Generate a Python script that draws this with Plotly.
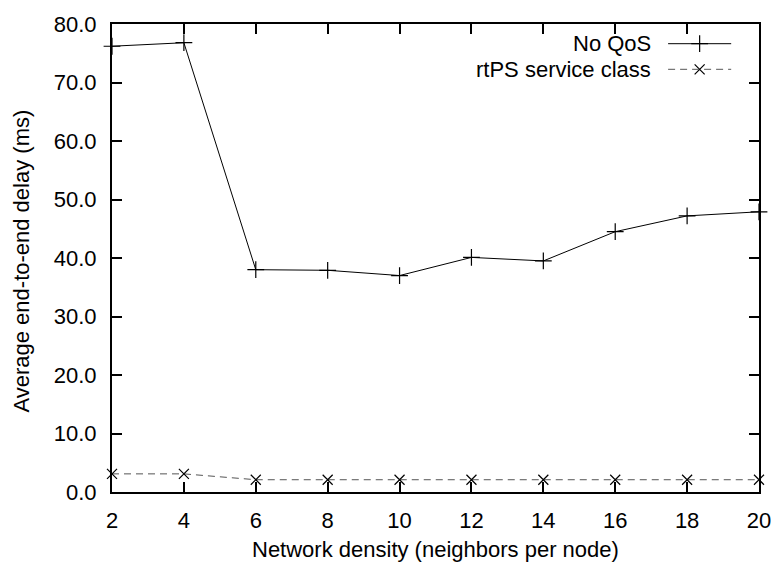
import plotly.graph_objects as go

# Network density (neighbors per node)
density = [2, 4, 6, 8, 10, 12, 14, 16, 18, 20]
# Average end-to-end delay (ms)
delay_no_qos = [76.2, 76.8, 38.0, 37.9, 37.0, 40.1, 39.5, 44.5, 47.2, 47.9]
delay_rtps = [3.1, 3.1, 2.1, 2.1, 2.1, 2.1, 2.1, 2.1, 2.1, 2.1]

series_names = ["No QoS", "rtPS service class"]
y_ticks = [0, 10, 20, 30, 40, 50, 60, 70, 80]

FONT = "Liberation Sans, Arial, Helvetica, sans-serif"
FS = 22

fig = go.Figure()

fig.add_trace(go.Scatter(
    x=density, y=delay_no_qos, mode="lines+markers", name=series_names[0],
    line=dict(color="black", width=1),
    marker=dict(symbol="cross-thin", size=12, line=dict(color="black", width=1.2)),
    cliponaxis=False,
))
fig.add_trace(go.Scatter(
    x=density, y=delay_rtps, mode="lines+markers", name=series_names[1],
    line=dict(color="#555555", width=1, dash="7px,5px"),
    marker=dict(symbol="x-thin", size=10, line=dict(color="black", width=1.2)),
    cliponaxis=False,
))

# key in the upper right: label, line sample and symbol
key_rows = [0.9579, 0.9032]
key_x0, key_x1, key_text_x = 0.8595, 0.957, 0.8366
key_styles = [
    dict(color="black", width=1, dash="solid", symbol="cross-thin", size=12),
    dict(color="#555555", width=1, dash="7px,5px", symbol="x-thin", size=10),
]
for name, yk, st in zip(series_names, key_rows, key_styles):
    fig.add_annotation(
        x=key_text_x, y=yk, xref="paper", yref="paper", text=name,
        showarrow=False, xanchor="right", yanchor="middle",
        font=dict(family=FONT, size=FS, color="black"),
    )
    fig.add_shape(
        type="line", xref="paper", yref="paper",
        x0=key_x0, x1=key_x1, y0=yk, y1=yk,
        line=dict(color=st["color"], width=st["width"], dash=st["dash"]),
    )
    fig.add_trace(go.Scatter(
        x=[(key_x0 + key_x1) / 2], y=[yk], xaxis="x2", yaxis="y2",
        mode="markers", showlegend=False, hoverinfo="skip",
        marker=dict(symbol=st["symbol"], size=st["size"],
                    line=dict(color="black", width=1.2)),
        cliponaxis=False,
    ))

# axis titles
fig.add_annotation(
    x=0.5, y=-0.1221, xref="paper", yref="paper",
    text="Network density (neighbors per node)", showarrow=False,
    xanchor="center", yanchor="middle",
    font=dict(family=FONT, size=FS, color="black"),
)
fig.add_annotation(
    x=-0.1405, y=0.4926, xref="paper", yref="paper",
    text="Average end-to-end delay (ms)", showarrow=False, textangle=-90,
    xanchor="center", yanchor="middle",
    font=dict(family=FONT, size=FS, color="black"),
)

axis_common = dict(
    showline=True, linecolor="black", linewidth=2, mirror="ticks",
    ticks="inside", ticklen=10, tickwidth=1.5, tickcolor="black",
    showgrid=False, zeroline=False,
    tickfont=dict(family=FONT, size=FS, color="black"),
)

fig.update_layout(
    width=783, height=565,
    margin=dict(l=112, r=16, t=17, b=73),
    paper_bgcolor="white", plot_bgcolor="white",
    showlegend=False,
    font=dict(family=FONT, size=FS, color="black"),
    xaxis=dict(
        range=[2, 20], tickmode="array", tickvals=density,
        ticklabelstandoff=8,
        **axis_common,
    ),
    yaxis=dict(
        range=[0, 80], tickmode="array", tickvals=y_ticks,
        ticktext=[f"{v:.1f}" for v in y_ticks],
        ticklabelstandoff=9,
        **axis_common,
    ),
    xaxis2=dict(range=[0, 1], overlaying="x", visible=False, fixedrange=True),
    yaxis2=dict(range=[0, 1], overlaying="y", visible=False, fixedrange=True),
)

fig.write_html("out.html")
